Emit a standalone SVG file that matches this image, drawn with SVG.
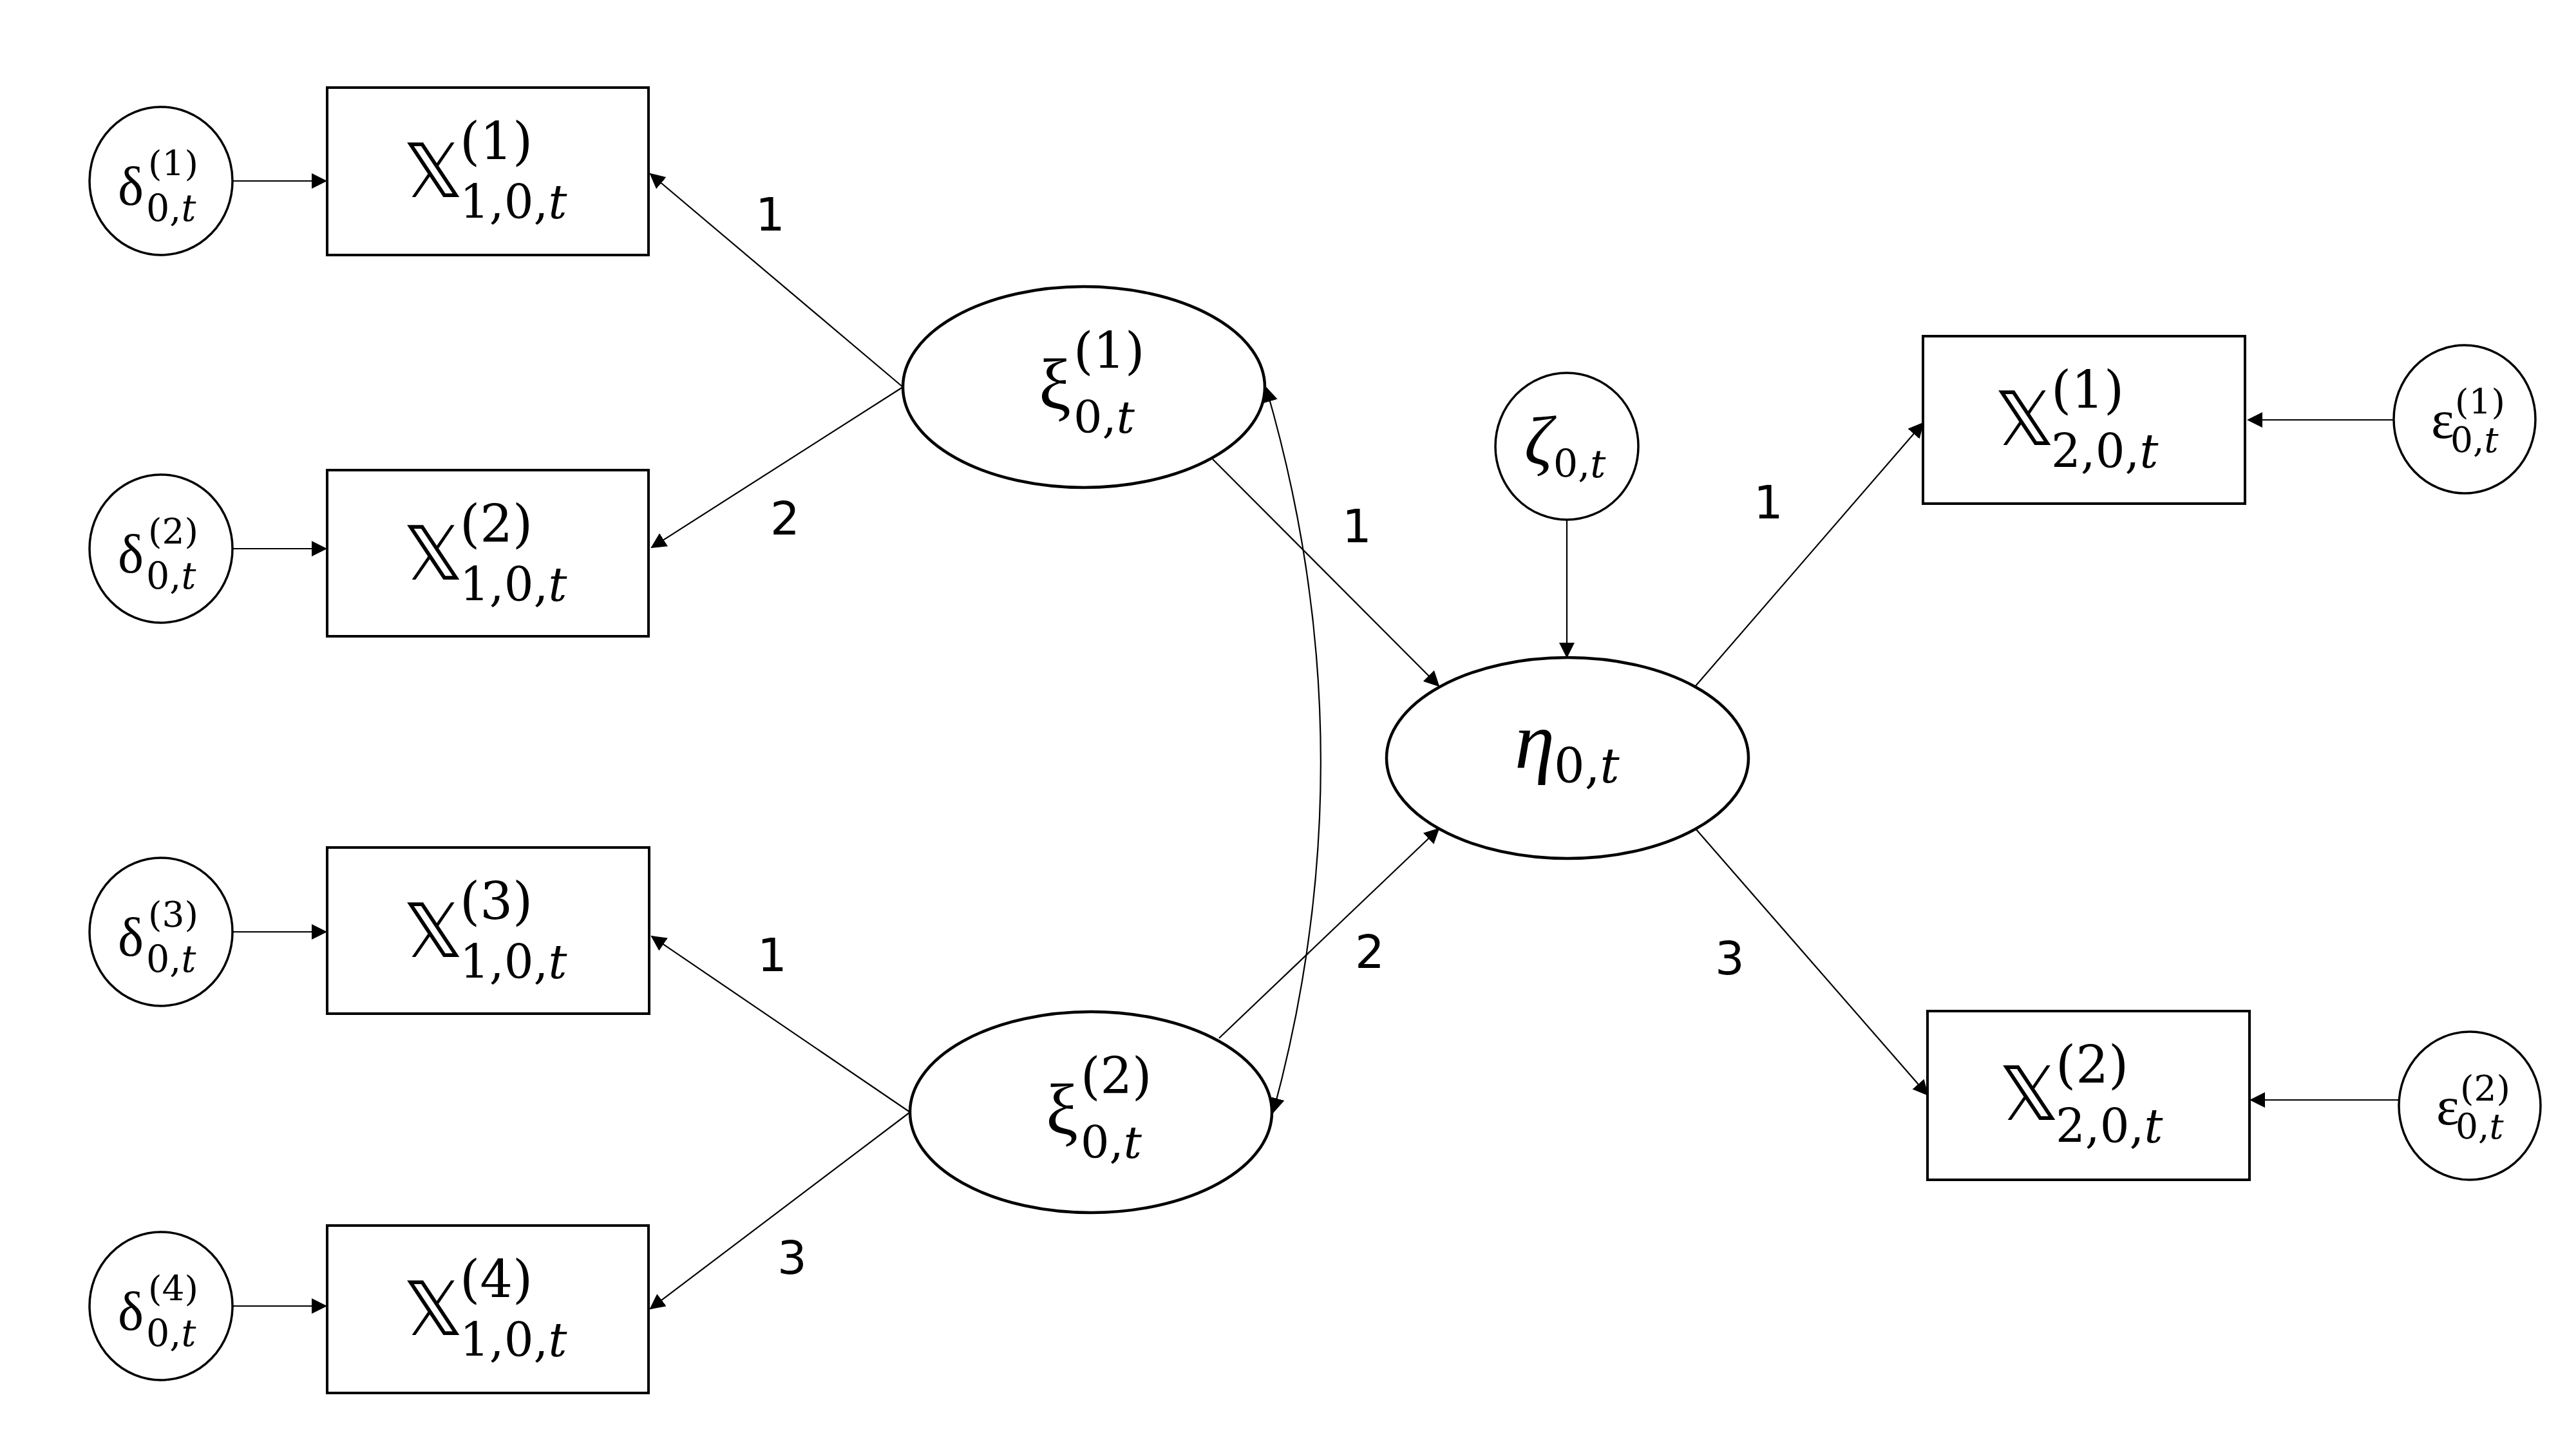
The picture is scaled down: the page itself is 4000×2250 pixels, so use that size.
<svg xmlns="http://www.w3.org/2000/svg" width="4000" height="2250" viewBox="0 0 4000 2250">
<style>
.box{fill:#fff;stroke:#000;stroke-width:4}
.circ{fill:#fff;stroke:#000;stroke-width:3.5}
.ell{fill:#fff;stroke:#000;stroke-width:4.5}
.con{fill:none;stroke:#000;stroke-width:2.2}
.dbl{font-family:"DejaVu Sans","Noto Sans",sans-serif;font-size:116px}
.gr{font-family:"Liberation Serif","DejaVu Serif",serif}
.gi{font-family:"Liberation Serif","DejaVu Serif",serif;font-style:italic}
.num{font-family:"DejaVu Serif","Liberation Serif",serif}
.it{font-style:italic}
.lab{font-family:"DejaVu Sans","Noto Sans",sans-serif;font-size:72px;text-anchor:middle}
</style>
<defs>
<marker id="ah" markerUnits="userSpaceOnUse" markerWidth="24" markerHeight="24" viewBox="0 0 24 24" refX="22" refY="12" orient="auto-start-reverse">
<path d="M0,0 L24,12 L0,24 z" fill="#000"/>
</marker>
</defs>
<rect width="4000" height="2250" fill="#fff"/>

<g id="connectors">
<line class="con" x1="361" y1="281" x2="506" y2="281" marker-end="url(#ah)"/>
<line class="con" x1="361" y1="852" x2="506" y2="852" marker-end="url(#ah)"/>
<line class="con" x1="361" y1="1447" x2="506" y2="1447" marker-end="url(#ah)"/>
<line class="con" x1="361" y1="2028" x2="506" y2="2028" marker-end="url(#ah)"/>
<line class="con" x1="3717" y1="652" x2="3491" y2="652" marker-end="url(#ah)"/>
<line class="con" x1="3725" y1="1708" x2="3495" y2="1708" marker-end="url(#ah)"/>
<line class="con" x1="1402" y1="601" x2="1010" y2="270" marker-end="url(#ah)"/>
<line class="con" x1="1402" y1="601" x2="1012" y2="850" marker-end="url(#ah)"/>
<line class="con" x1="1413" y1="1727" x2="1012" y2="1454" marker-end="url(#ah)"/>
<line class="con" x1="1413" y1="1727" x2="1010" y2="2032" marker-end="url(#ah)"/>
<line class="con" x1="1883" y1="713" x2="2234" y2="1065" marker-end="url(#ah)"/>
<line class="con" x1="1893" y1="1612" x2="2234" y2="1287" marker-end="url(#ah)"/>
<line class="con" x1="2433" y1="807" x2="2433" y2="1020" marker-end="url(#ah)"/>
<line class="con" x1="2633" y1="1065" x2="2986" y2="657" marker-end="url(#ah)"/>
<line class="con" x1="2633" y1="1287" x2="2993" y2="1700" marker-end="url(#ah)"/>
<path class="con" d="M1966,602 Q2130,1164 1977,1727" marker-start="url(#ah)" marker-end="url(#ah)"/>
<text class="lab" x="1196" y="358">1</text>
<text class="lab" x="1219" y="830">2</text>
<text class="lab" x="2107" y="842">1</text>
<text class="lab" x="2746" y="805">1</text>
<text class="lab" x="1199" y="1508">1</text>
<text class="lab" x="2127" y="1503">2</text>
<text class="lab" x="2686" y="1513">3</text>
<text class="lab" x="1230" y="1978">3</text>
</g>

<g id="delta1" transform="translate(250,281)">
<ellipse class="circ" cx="0" cy="0" rx="111" ry="115"/>
<text class="gr" x="-67" y="37" font-size="85">δ</text>
<text class="num" x="-20" y="-8" font-size="55">(1)</text>
<text class="num" x="-23" y="62" font-size="57">0,<tspan class="it">t</tspan></text>
</g>
<g id="delta2" transform="translate(250,852)">
<ellipse class="circ" cx="0" cy="0" rx="111" ry="115"/>
<text class="gr" x="-67" y="37" font-size="85">δ</text>
<text class="num" x="-20" y="-8" font-size="55">(2)</text>
<text class="num" x="-23" y="62" font-size="57">0,<tspan class="it">t</tspan></text>
</g>
<g id="delta3" transform="translate(250,1447)">
<ellipse class="circ" cx="0" cy="0" rx="111" ry="115"/>
<text class="gr" x="-67" y="37" font-size="85">δ</text>
<text class="num" x="-20" y="-8" font-size="55">(3)</text>
<text class="num" x="-23" y="62" font-size="57">0,<tspan class="it">t</tspan></text>
</g>
<g id="delta4" transform="translate(250,2028)">
<ellipse class="circ" cx="0" cy="0" rx="111" ry="115"/>
<text class="gr" x="-67" y="37" font-size="85">δ</text>
<text class="num" x="-20" y="-8" font-size="55">(4)</text>
<text class="num" x="-23" y="62" font-size="57">0,<tspan class="it">t</tspan></text>
</g>

<g id="X1" transform="translate(508,136)">
<rect class="box" x="0" y="0" width="499" height="260"/>
<text class="dbl" x="118" y="170">𝕏</text>
<text class="num" x="206" y="111" font-size="80">(1)</text>
<text class="num" x="206" y="203" font-size="72">1,0,<tspan class="it">t</tspan></text>
</g>
<g id="X2" transform="translate(508,730)">
<rect class="box" x="0" y="0" width="499" height="258"/>
<text class="dbl" x="118" y="170">𝕏</text>
<text class="num" x="206" y="111" font-size="80">(2)</text>
<text class="num" x="206" y="203" font-size="72">1,0,<tspan class="it">t</tspan></text>
</g>
<g id="X3" transform="translate(508,1316)">
<rect class="box" x="0" y="0" width="500" height="258"/>
<text class="dbl" x="118" y="170">𝕏</text>
<text class="num" x="206" y="111" font-size="80">(3)</text>
<text class="num" x="206" y="203" font-size="72">1,0,<tspan class="it">t</tspan></text>
</g>
<g id="X4" transform="translate(508,1903)">
<rect class="box" x="0" y="0" width="499" height="260"/>
<text class="dbl" x="118" y="170">𝕏</text>
<text class="num" x="206" y="111" font-size="80">(4)</text>
<text class="num" x="206" y="203" font-size="72">1,0,<tspan class="it">t</tspan></text>
</g>

<g id="xi1" transform="translate(1683,601)">
<ellipse class="ell" cx="0" cy="0" rx="281" ry="156"/>
<text class="gr" x="-70" y="34" font-size="112">ξ</text>
<text class="num" x="-16" y="-29" font-size="78">(1)</text>
<text class="num" x="-16" y="71" font-size="70">0,<tspan class="it">t</tspan></text>
</g>
<g id="xi2" transform="translate(1694,1727)">
<ellipse class="ell" cx="0" cy="0" rx="281" ry="156"/>
<text class="gr" x="-70" y="34" font-size="112">ξ</text>
<text class="num" x="-16" y="-29" font-size="78">(2)</text>
<text class="num" x="-16" y="71" font-size="70">0,<tspan class="it">t</tspan></text>
</g>

<g id="zeta" transform="translate(2433,693)">
<ellipse class="circ" cx="0" cy="0" rx="111" ry="114"/>
<text class="gi" x="-66" y="28" font-size="108">ζ</text>
<text class="num" x="-21" y="48" font-size="60">0,<tspan class="it">t</tspan></text>
</g>

<g id="eta" transform="translate(2434,1177)">
<ellipse class="ell" cx="0" cy="0" rx="281" ry="156"/>
<text class="gi" x="-82" y="15" font-size="125">η</text>
<text class="num" x="-21" y="38" font-size="75">0,<tspan class="it">t</tspan></text>
</g>

<g id="X21" transform="translate(2986,522)">
<rect class="box" x="0" y="0" width="500" height="260"/>
<text class="dbl" x="111" y="169">𝕏</text>
<text class="num" x="199" y="111" font-size="80">(1)</text>
<text class="num" x="199" y="204" font-size="72">2,0,<tspan class="it">t</tspan></text>
</g>
<g id="X22" transform="translate(2993,1570)">
<rect class="box" x="0" y="0" width="500" height="262"/>
<text class="dbl" x="111" y="169">𝕏</text>
<text class="num" x="199" y="111" font-size="80">(2)</text>
<text class="num" x="199" y="204" font-size="72">2,0,<tspan class="it">t</tspan></text>
</g>

<g id="eps1" transform="translate(3827,651)">
<ellipse class="circ" cx="0" cy="0" rx="110" ry="115"/>
<text class="gr" x="-52" y="29" font-size="85">ε</text>
<text class="num" x="-15" y="-8" font-size="55">(1)</text>
<text class="num" x="-22" y="51" font-size="55">0,<tspan class="it">t</tspan></text>
</g>
<g id="eps2" transform="translate(3835,1717)">
<ellipse class="circ" cx="0" cy="0" rx="110" ry="115"/>
<text class="gr" x="-52" y="29" font-size="85">ε</text>
<text class="num" x="-15" y="-8" font-size="55">(2)</text>
<text class="num" x="-22" y="51" font-size="55">0,<tspan class="it">t</tspan></text>
</g>
</svg>
